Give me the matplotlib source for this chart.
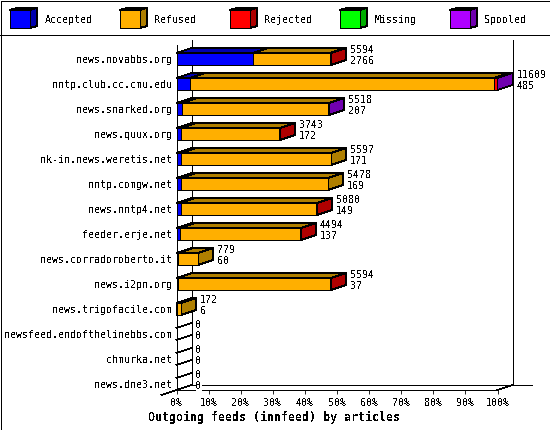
import matplotlib
matplotlib.use("Agg")
import matplotlib.pyplot as plt
from matplotlib.patches import Polygon, Rectangle

plt.rcParams['font.family'] = 'DejaVu Sans Mono'
plt.rcParams['text.antialiased'] = False
plt.rcParams['patch.antialiased'] = False
plt.rcParams['lines.antialiased'] = False

feeds = ["news.novabbs.org", "nntp.club.cc.cmu.edu", "news.snarked.org", "news.quux.org",
         "nk-in.news.weretis.net", "nntp.comgw.net", "news.nntp4.net", "feeder.erje.net",
         "news.corradoroberto.it", "news.i2pn.org", "news.trigofacile.com",
         "newsfeed.endofthelinebbs.com", "chmurka.net", "news.dne3.net"]
offered = [5594, 11609, 5518, 3743, 5597, 5478, 5080, 4494, 779, 5594, 172, 0, 0, 0]
accepted = [2766, 485, 207, 172, 171, 169, 149, 137, 60, 37, 6, 0, 0, 0]
refused = [2768, 10999, 5299, 3563, 5426, 5309, 4925, 4342, 719, 5552, 166, 0, 0, 0]
rejected = [60, 110, 0, 8, 0, 0, 6, 15, 0, 5, 0, 0, 0, 0]
missing = [0, 0, 0, 0, 0, 0, 0, 0, 0, 0, 0, 0, 0, 0]
spooled = [0, 15, 12, 0, 0, 0, 0, 0, 0, 0, 0, 0, 0, 0]

names = ["Accepted", "Refused", "Rejected", "Missing", "Spooled"]
series = [accepted, refused, rejected, missing, spooled]
front = ["#0000ff", "#ffaf00", "#ff0000", "#00ff00", "#af00ff"]
dark = ["#0000af", "#af7f00", "#af0000", "#00af00", "#7000af"]
ticks = list(range(0, 101, 10))

W, H = 550, 430
LW = 0.6
FS = 7.2
fig = plt.figure(figsize=(W / 100, H / 100), dpi=100)

# pixel layer for frame, legend and title
bg = fig.add_axes([0, 0, 1, 1])
bg.set_xlim(0, W)
bg.set_ylim(H, 0)
bg.axis("off")
bg.add_patch(Rectangle((0.5, 0.5), W - 1, H - 1, fc="white", ec="black", lw=LW))
bg.plot([0, W], [35, 35], color="black", lw=LW)
bg.text(274, 417, "Outgoing feeds (innfeed) by articles", ha="center", va="center",
        fontsize=8.4, fontweight="bold")

for i, name in enumerate(names):
    x0 = 10 + 110 * i
    y0 = 10
    bg.add_patch(Polygon([(x0, y0), (x0 + 7, y0 - 2), (x0 + 27, y0 - 2), (x0 + 20, y0)],
                         fc=dark[i], ec="black", lw=LW))
    bg.add_patch(Polygon([(x0 + 20, y0), (x0 + 27, y0 - 2), (x0 + 27, y0 + 16), (x0 + 20, y0 + 18)],
                         fc=dark[i], ec="black", lw=LW))
    bg.add_patch(Rectangle((x0, y0), 20, 18, fc=front[i], ec="black", lw=LW))
    bg.text(x0 + 34.5, 20, name, ha="left", va="center", fontsize=FS)

# chart area: x in percent, y in rows
ax = fig.add_axes([176.5 / W, 1 - 390 / H, 321 / W, 345 / H])
ax.patch.set_alpha(0)
ax.set_xlim(0, 100)
row_px = 25.0
ax.set_ylim(13 + (390 - 384) / row_px, -(59 - 45) / row_px)
ymin, ymax = ax.get_ylim()
px = 100 / 321
dx = 15 * px
dy = 5 / row_px
half = 6 / row_px

for s in ["top", "right"]:
    ax.spines[s].set_visible(False)
ax.spines["left"].set_linewidth(LW)
ax.spines["bottom"].set_linewidth(LW)
ax.set_xticks(ticks)
ax.set_xticklabels(["%d%%" % t for t in ticks], fontsize=FS)
ax.set_yticks(range(len(feeds)))
ax.set_yticklabels(feeds, fontsize=FS)
ax.tick_params(axis="x", length=2.9, width=LW, pad=3)
ax.tick_params(axis="y", length=0, pad=3)

# back wall and floor
line = dict(color="black", lw=LW, clip_on=False, zorder=1)
ax.plot([dx, dx], [ymin - dy, ymax - dy], **line)
ax.plot([100 + dx, 100 + dx], [ymin - dy, ymax - dy], **line)
ax.plot([dx, 100 + 34 * px], [ymin - dy, ymin - dy], **line)
ax.plot([-15 * px, 0], [ymin + dy, ymin], **line)
ax.plot([100, 100 + dx], [ymin, ymin - dy], **line)

for r in range(len(feeds)):
    top = r - half
    bottom = r + half
    left = 0.0
    end = 100 * offered[r] / max(offered)
    if offered[r] == 0:
        ax.plot([0, dx], [top, top - dy], **line)
        ax.plot([0, dx], [bottom, bottom - dy], **line)
    for k, vals in enumerate(series):
        if vals[r] == 0:
            continue
        right = left + 100 * vals[r] / max(offered)
        style = dict(ec="black", lw=LW, clip_on=False, zorder=3)
        ax.add_patch(Polygon([(right, top), (right + dx, top - dy), (right + dx, bottom - dy), (right, bottom)],
                             fc=dark[k], **style))
        ax.add_patch(Polygon([(left, top), (left + dx, top - dy), (right + dx, top - dy), (right, top)],
                             fc=dark[k], **style))
        ax.add_patch(Rectangle((left, top), right - left, bottom - top, fc=front[k], **style))
        left = right
    lab = end + 19 * px
    box = dict(fc="white", ec="none", pad=0)
    ax.text(lab, r - 8.5 / row_px, str(offered[r]), ha="left", va="center", fontsize=FS,
            bbox=box, clip_on=False, zorder=4)
    ax.text(lab, r + 2.5 / row_px, str(accepted[r]), ha="left", va="center", fontsize=FS,
            bbox=box, clip_on=False, zorder=4)

fig.savefig("out.png", dpi=100)
